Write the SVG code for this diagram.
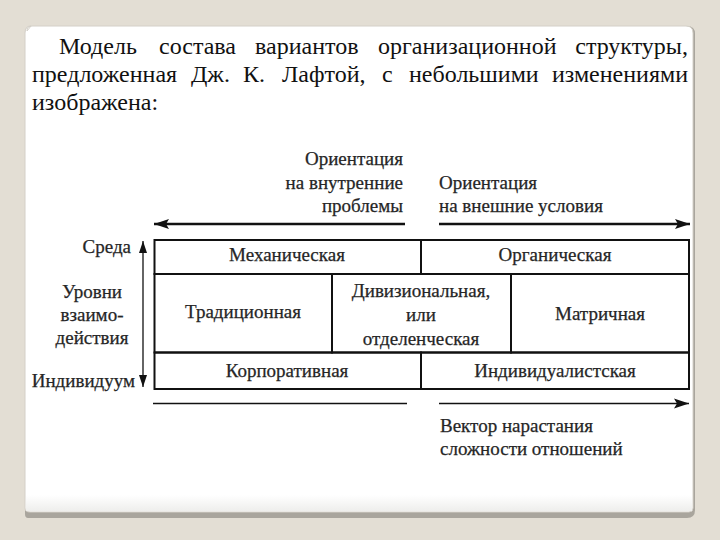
<svg xmlns="http://www.w3.org/2000/svg" width="720" height="540" viewBox="0 0 720 540">
<defs>
<style>
.t{font-family:"Liberation Serif","Tinos","Noto Serif","DejaVu Serif",serif;font-size:24px;fill:#111}
.d{font-family:"Liberation Serif","Tinos","Noto Serif","DejaVu Serif",serif;font-size:19px;fill:#262626;stroke:#262626;stroke-width:0.25}
.cell{fill:none;stroke:#111;stroke-width:2}
.thick{stroke:#111;stroke-width:2.6;fill:none}
.thin{stroke:#111;stroke-width:1.3;fill:none}
</style>
<marker id="hd" markerUnits="userSpaceOnUse" markerWidth="16" markerHeight="12" refX="15" refY="6" orient="auto">
<path d="M0,1 L15,6 L0,11 L3,6 Z" fill="#111"/>
</marker>
<marker id="hv" markerUnits="userSpaceOnUse" markerWidth="13" markerHeight="10" refX="12" refY="4.5" orient="auto">
<path d="M0,0.5 L12,4.5 L0,8.5 Z" fill="#111"/>
</marker>
<linearGradient id="bot" x1="0" y1="0" x2="0" y2="1">
<stop offset="0" stop-color="#ffffff"/>
<stop offset="1" stop-color="#eeeeec"/>
</linearGradient>
</defs>
<rect x="0" y="0" width="720" height="540" fill="#e3ded4"/>
<g id="card">
<path d="M27,31 Q27,26 32,26 L687,26 Q695,26 695,34 L695,510 Q695,518 687,518 L28,518 Q25,518 25,514 L25,33 Q25,26 31,26 Z" fill="#a9a59d"/>
<path d="M27,31 Q27,26 32,26 L686,26 Q693,26 693,33 L693,508 Q693,512 689,512 L30,512 Q25,512 25,508 L25,33 Q25,26 31,26 Z" fill="#ffffff" stroke="#d4d0c8" stroke-width="1"/>
<rect x="26" y="495" width="666" height="16" fill="url(#bot)"/>
</g>
<g id="title">
<text class="t" y="54"><tspan x="59">Модель</tspan><tspan x="159">состава</tspan><tspan x="255">вариантов</tspan><tspan x="378">организационной</tspan></text>
<text class="t" x="688" y="54" text-anchor="end">структуры,</text>
<text class="t" y="82"><tspan x="32">предложенная</tspan><tspan x="191">Дж.</tspan><tspan x="243">К.</tspan><tspan x="282">Лафтой,</tspan><tspan x="382">с</tspan><tspan x="409">небольшими</tspan></text>
<text class="t" x="688" y="82" text-anchor="end">изменениями</text>
<text class="t" x="32" y="110">изображена:</text>
</g>
<g id="connectors">
<line class="thick" x1="405" y1="224" x2="154" y2="224" marker-end="url(#hd)"/>
<line class="thick" x1="439" y1="224" x2="690" y2="224" marker-end="url(#hd)"/>
<line class="thin" x1="153" y1="403.5" x2="407" y2="403.5"/>
<line class="thin" x1="439" y1="403.5" x2="689" y2="403.5" marker-end="url(#hd)"/>
<line class="thin" x1="143" y1="300" x2="143" y2="241" marker-end="url(#hv)"/>
<line class="thin" x1="143" y1="300" x2="143" y2="387" marker-end="url(#hv)"/>
</g>
<g id="label-internal">
<text class="d" x="403" y="165" text-anchor="end">Ориентация</text>
<text class="d" x="403" y="189" text-anchor="end">на внутренние</text>
<text class="d" x="403" y="212" text-anchor="end">проблемы</text>
</g>
<g id="label-external">
<text class="d" x="439" y="189">Ориентация</text>
<text class="d" x="439" y="212">на внешние условия</text>
</g>
<g id="label-levels">
<text class="d" x="131" y="253" text-anchor="end">Среда</text>
<text class="d" x="92" y="298" text-anchor="middle">Уровни</text>
<text class="d" x="92" y="321" text-anchor="middle">взаимо-</text>
<text class="d" x="92" y="344" text-anchor="middle">действия</text>
<text class="d" x="135" y="387" text-anchor="end">Индивидуум</text>
</g>
<g id="label-vector">
<text class="d" x="440" y="432">Вектор нарастания</text>
<text class="d" x="440" y="455">сложности отношений</text>
</g>
<g id="cell-mech">
<rect class="cell" x="154.5" y="240" width="266.5" height="34"/>
<text class="d" x="287" y="261" text-anchor="middle">Механическая</text>
</g>
<g id="cell-org">
<rect class="cell" x="421" y="240" width="268" height="34"/>
<text class="d" x="555" y="261" text-anchor="middle">Органическая</text>
</g>
<g id="cell-trad">
<rect class="cell" x="154.5" y="274" width="177.5" height="78.5"/>
<text class="d" x="243" y="318" text-anchor="middle">Традиционная</text>
</g>
<g id="cell-div">
<rect class="cell" x="332" y="274" width="179" height="78.5"/>
<text class="d" x="421" y="297" text-anchor="middle">Дивизиональная,</text>
<text class="d" x="421" y="321" text-anchor="middle">или</text>
<text class="d" x="421" y="345" text-anchor="middle">отделенческая</text>
</g>
<g id="cell-matr">
<rect class="cell" x="511" y="274" width="178" height="78.5"/>
<text class="d" x="600" y="320" text-anchor="middle">Матричная</text>
</g>
<g id="cell-corp">
<rect class="cell" x="154.5" y="352.5" width="266.5" height="36.5"/>
<text class="d" x="287" y="377" text-anchor="middle">Корпоративная</text>
</g>
<g id="cell-indiv">
<rect class="cell" x="421" y="352.5" width="268" height="36.5"/>
<text class="d" x="555" y="377" text-anchor="middle">Индивидуалистская</text>
</g>
</svg>
